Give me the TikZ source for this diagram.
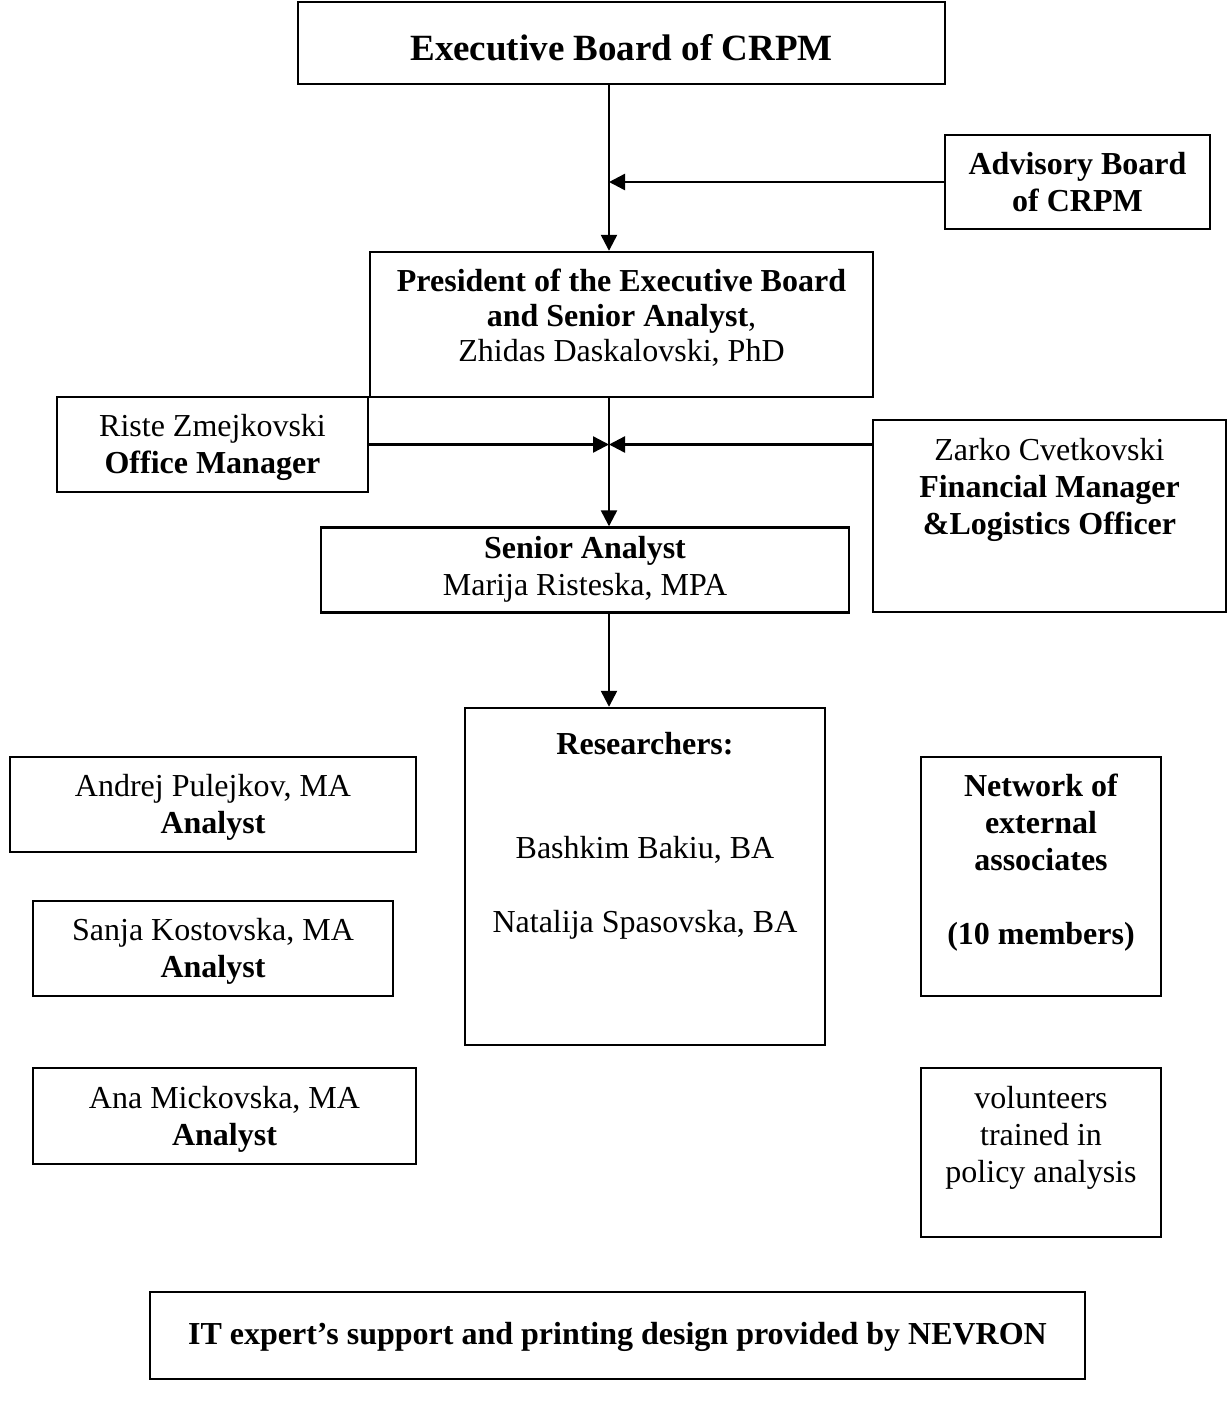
\documentclass[tikz,border=0pt]{standalone}
\usepackage{fontspec}
\setmainfont{Liberation Serif}
\usetikzlibrary{arrows.meta}
\begin{document}
\begin{tikzpicture}[x=1pt,y=-1pt,
  box/.style={draw,line width=2.4pt,inner sep=0pt},
  txt/.style={align=center,font=\fontsize{32}{37}\selectfont,inner sep=0pt},
  btxt/.style={txt,font=\fontsize{32}{37}\selectfont\bfseries},
  arr/.style={line width=2.4pt,-{Triangle[width=16pt,length=16pt]}}]
\useasboundingbox (0,0) rectangle (1228,1425);
% boxes
\node[box,minimum width=647pt,minimum height=82pt] (exec) at (621.5,43) {};
\node[box,minimum width=265pt,minimum height=94pt] (adv) at (1077.5,182) {};
\node[box,minimum width=503pt,minimum height=145pt] (pres) at (621.5,324.5) {};
\node[box,minimum width=311pt,minimum height=95pt] (riste) at (212.5,444.5) {};
\node[box,minimum width=353pt,minimum height=192pt] (zarko) at (1049.5,516) {};
\node[box,minimum width=528pt,minimum height=85pt] (senior) at (585,570) {};
\node[box,minimum width=360pt,minimum height=337pt] (research) at (645,876.5) {};
\node[box,minimum width=406pt,minimum height=95pt] (andrej) at (213,804.5) {};
\node[box,minimum width=360pt,minimum height=95pt] (sanja) at (213,948.5) {};
\node[box,minimum width=383pt,minimum height=96pt] (ana) at (224.5,1116) {};
\node[box,minimum width=240pt,minimum height=239pt] (network) at (1041,876.5) {};
\node[box,minimum width=240pt,minimum height=169pt] (volunteers) at (1041,1152.5) {};
\node[box,minimum width=935pt,minimum height=87pt] (itbox) at (617.5,1335.5) {};
% texts
\node[btxt,font=\fontsize{37}{42}\selectfont\bfseries] (t-exec) at (621.5,48) {Executive Board of CRPM};
\node[btxt] (t-adv) at (1077.5,182) {Advisory Board\\of CRPM};
\node[txt,font=\fontsize{32}{35}\selectfont] (t-pres) at (621.5,318) {\textbf{President of the Executive Board}\\\textbf{and Senior Analyst},\\Zhidas Daskalovski, PhD};
\node[txt] (t-riste) at (212.5,447) {Riste Zmejkovski\\\textbf{Office Manager}};
\node[txt] (t-zarko) at (1049.5,490) {Zarko Cvetkovski\\\textbf{Financial Manager}\\\textbf{\&Logistics Officer}};
\node[txt] (t-senior) at (585,569) {\textbf{Senior Analyst}\\Marija Risteska, MPA};
\node[btxt] (t-research) at (645,744) {Researchers:};
\node[txt] (t-names) at (645,888) {Bashkim Bakiu, BA\\[37pt]Natalija Spasovska, BA};
\node[txt] (t-andrej) at (213,807) {Andrej Pulejkov, MA\\\textbf{Analyst}};
\node[txt] (t-sanja) at (213,951) {Sanja Kostovska, MA\\\textbf{Analyst}};
\node[txt] (t-ana) at (224.5,1119) {Ana Mickovska, MA\\\textbf{Analyst}};
\node[btxt] (t-network) at (1041,863) {Network of\\external\\associates\\[37pt](10 members)};
\node[txt] (t-vol) at (1041,1138) {volunteers\\trained in\\policy analysis};
\node[btxt] (t-it) at (617.5,1337) {IT expert’s support and printing design provided by NEVRON};
% connectors
\coordinate (spine) at (609,0);
\draw[arr] (exec.south -| spine) -- (pres.north -| spine);
\draw[arr] (adv.west) -- (adv.west -| spine);
\draw[arr] (pres.south -| spine) -- (senior.north -| spine);
\draw[arr] (riste.east) -- (riste.east -| spine);
\draw[arr] (zarko.west |- riste.east) -- (riste.east -| spine);
\draw[arr] (senior.south -| spine) -- (research.north -| spine);
\end{tikzpicture}
\end{document}
